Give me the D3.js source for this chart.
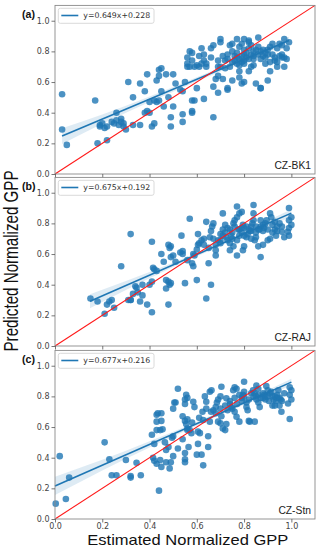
<!DOCTYPE html>
<html>
<head>
<meta charset="utf-8">
<script src="https://cdn.jsdelivr.net/npm/d3@7"></script>
<style>
  html, body { margin: 0; padding: 0; background: #fff; }
  svg { display: block; }
</style>
</head>
<body>
<script>
// Site names, panel tags and regression fits (from the legends)
const sites = ['CZ-BK1', 'CZ-RAJ', 'CZ-Stn']
const tags = ['(a)', '(b)', '(c)']
const slopes = [0.649, 0.675, 0.677]
const intercepts = [0.228, 0.192, 0.216]
const fitRange = [[0.03, 0.99], [0.148, 1.0], [0.0, 1.0]]

// CI band half widths at bandX
const bandX = [0, 0.2, 0.4, 0.6, 0.8, 1.0]
const bandHalf = [
  [0.055, 0.03, 0.018, 0.014, 0.015, 0.025],
  [0.06, 0.04, 0.02, 0.012, 0.014, 0.025],
  [0.06, 0.035, 0.02, 0.013, 0.012, 0.022]
]

const ticks = [0, 0.2, 0.4, 0.6, 0.8, 1.0]

// Scatter points [estimated, predicted]
const bk1 = [
  [0.03,0.52],[0.03,0.29],[0.05,0.19],[0.17,0.48],[0.18,0.20],[0.19,0.32],[0.19,0.31],[0.2,0.33],[0.21,0.30],[0.22,0.31],[0.22,0.22],
  [0.24,0.34],[0.25,0.33],[0.26,0.40],[0.26,0.35],[0.27,0.32],[0.28,0.36],[0.28,0.34],[0.29,0.31],[0.29,0.33],[0.30,0.29],[0.31,0.60],
  [0.33,0.50],[0.33,0.32],[0.36,0.59],[0.36,0.32],[0.38,0.54],[0.39,0.65],[0.38,0.40],[0.39,0.41],[0.40,0.40],[0.41,0.31],[0.42,0.33],
  [0.40,0.47],[0.42,0.48],[0.43,0.47],[0.44,0.48],[0.44,0.68],[0.45,0.69],[0.44,0.64],[0.43,0.61],[0.45,0.54],[0.46,0.44],[0.47,0.65],
  [0.48,0.50],[0.49,0.31],[0.49,0.37],[0.50,0.44],[0.50,0.65],[0.51,0.59],[0.53,0.55],[0.54,0.54],[0.54,0.39],[0.54,0.34],[0.55,0.60],
  [0.56,0.70],[0.56,0.76],[0.57,0.80],[0.58,0.79],[0.58,0.40],[0.58,0.48],[0.59,0.48],[0.58,0.74],[0.60,0.71],[0.60,0.56],[0.61,0.70],
  [0.62,0.82],[0.63,0.78],[0.63,0.49],[0.63,0.74],[0.64,0.70],[0.66,0.76],[0.66,0.82],[0.67,0.84],[0.67,0.37],[0.67,0.57],[0.68,0.62],
  [0.69,0.64],[0.69,0.70],[0.69,0.74],[0.70,0.70],[0.70,0.88],[0.70,0.86],[0.71,0.62],[0.72,0.69],[0.73,0.78],[0.73,0.75],[0.73,0.56],
  [0.74,0.70],[0.75,0.61],[0.75,0.80],[0.76,0.77],[0.77,0.76],[0.77,0.79],[0.78,0.75],[0.74,0.84],[0.75,0.85],[0.77,0.88],[0.78,0.67],
  [0.78,0.63],[0.78,0.71],[0.79,0.73],[0.80,0.72],[0.79,0.59],[0.80,0.60],[0.80,0.78],[0.80,0.81],[0.81,0.79],[0.82,0.82],[0.82,0.86],
  [0.83,0.84],[0.80,0.88],[0.82,0.87],[0.84,0.77],[0.84,0.75],[0.85,0.81],[0.86,0.83],[0.86,0.89],[0.87,0.80],[0.88,0.81],[0.82,0.67],
  [0.83,0.70],[0.84,0.71],[0.85,0.59],[0.87,0.56],[0.88,0.77],[0.89,0.76],[0.89,0.79],[0.90,0.81],[0.91,0.83],[0.92,0.85],[0.89,0.72],
  [0.91,0.73],[0.90,0.61],[0.91,0.67],[0.92,0.78],[0.93,0.74],[0.93,0.76],[0.94,0.73],[0.95,0.77],[0.96,0.78],[0.96,0.76],[0.94,0.70],
  [0.94,0.82],[0.95,0.85],[0.96,0.84],[0.97,0.76],[0.98,0.75],[0.98,0.82],[0.97,0.88],[0.99,0.86],[0.97,0.70],
  [0.76,0.74],[0.77,0.72],[0.79,0.77],[0.81,0.76],[0.83,0.78],[0.75,0.73],[0.72,0.74],[0.71,0.77],[0.78,0.83],[0.79,0.85],[0.84,0.80],
  [0.86,0.78],[0.87,0.75],[0.90,0.78],[0.80,0.74],[0.82,0.75],[0.56,0.72],[0.57,0.70],[0.59,0.70],[0.61,0.77],[0.62,0.72],[0.64,0.72],
  [0.58,0.41],[0.69,0.53],[0.73,0.55],[0.87,0.56]
]

const raj = [
  [0.15,0.31],[0.18,0.29],[0.21,0.21],[0.22,0.27],[0.23,0.29],[0.24,0.30],[0.25,0.25],[0.28,0.52],[0.32,0.73],[0.31,0.30],[0.32,0.30],
  [0.32,0.30],[0.33,0.34],[0.34,0.39],[0.345,0.38],[0.35,0.35],[0.36,0.29],[0.37,0.40],[0.37,0.33],[0.39,0.27],[0.40,0.40],[0.41,0.42],
  [0.41,0.68],[0.41,0.22],[0.415,0.51],[0.42,0.50],[0.43,0.49],[0.45,0.60],[0.46,0.55],[0.48,0.66],[0.485,0.64],[0.49,0.58],[0.49,0.65],
  [0.47,0.43],[0.48,0.42],[0.485,0.40],[0.49,0.41],[0.47,0.375],[0.48,0.27],[0.50,0.59],[0.51,0.55],[0.53,0.61],[0.54,0.62],[0.54,0.60],
  [0.535,0.72],[0.55,0.41],[0.56,0.56],[0.57,0.83],[0.58,0.54],[0.585,0.52],[0.585,0.60],[0.59,0.59],[0.60,0.63],[0.605,0.66],[0.60,0.43],
  [0.605,0.73],[0.61,0.67],[0.62,0.69],[0.63,0.70],[0.64,0.81],[0.64,0.31],[0.65,0.54],[0.655,0.71],[0.66,0.75],[0.67,0.80],[0.665,0.78],
  [0.66,0.40],[0.68,0.625],[0.68,0.59],[0.69,0.69],[0.70,0.67],[0.70,0.73],[0.71,0.76],[0.71,0.865],[0.72,0.79],[0.725,0.71],[0.73,0.69],
  [0.74,0.67],[0.745,0.72],[0.74,0.625],[0.755,0.65],[0.755,0.80],[0.76,0.82],[0.77,0.84],[0.77,0.91],[0.77,0.59],[0.775,0.76],[0.78,0.72],
  [0.79,0.77],[0.795,0.79],[0.78,0.865],[0.79,0.875],[0.795,0.625],[0.80,0.65],[0.81,0.71],[0.815,0.73],[0.825,0.75],[0.83,0.78],[0.835,0.80],
  [0.84,0.82],[0.84,0.92],[0.84,0.865],[0.845,0.69],[0.85,0.71],[0.86,0.65],[0.865,0.76],[0.87,0.78],[0.88,0.75],[0.885,0.77],[0.89,0.80],
  [0.895,0.82],[0.87,0.58],[0.88,0.66],[0.90,0.69],[0.91,0.70],[0.91,0.865],[0.915,0.84],[0.92,0.74],[0.93,0.76],[0.935,0.72],[0.94,0.75],
  [0.95,0.80],[0.96,0.745],[0.97,0.71],[0.985,0.745],[0.99,0.90],[1.0,0.84],[0.99,0.82],[1.0,0.79],[0.99,0.77],[0.99,0.72],
  [0.72,0.74],[0.74,0.76],[0.76,0.78],[0.78,0.76],[0.79,0.74],[0.80,0.77],[0.81,0.78],[0.82,0.76],[0.83,0.75],[0.85,0.78],[0.86,0.76],
  [0.88,0.79],[0.75,0.70],[0.77,0.69],[0.70,0.69],[0.68,0.66],[0.73,0.77],[0.75,0.74],[0.80,0.72],[0.85,0.74],[0.87,0.82],[0.90,0.76],
  [0.92,0.79],[0.94,0.78],[0.96,0.78],[0.65,0.64],[0.63,0.66],[0.67,0.70],[0.71,0.72],[0.83,0.70],[0.93,0.81]
]

const stn = [
  [0.003,0.10],[0.02,0.41],[0.046,0.13],[0.06,0.27],[0.21,0.50],[0.23,0.39],[0.24,0.285],[0.26,0.285],[0.30,0.385],[0.32,0.28],[0.32,0.27],
  [0.345,0.367],[0.363,0.285],[0.41,0.55],[0.415,0.40],[0.42,0.38],[0.43,0.36],[0.42,0.49],[0.43,0.68],[0.435,0.69],[0.45,0.69],[0.43,0.635],
  [0.45,0.64],[0.43,0.58],[0.445,0.58],[0.455,0.585],[0.44,0.185],[0.445,0.385],[0.45,0.34],[0.465,0.50],[0.47,0.45],[0.47,0.37],[0.48,0.47],
  [0.485,0.33],[0.49,0.37],[0.495,0.53],[0.50,0.54],[0.50,0.72],[0.505,0.76],[0.51,0.76],[0.52,0.85],[0.52,0.46],[0.50,0.41],[0.55,0.43],
  [0.55,0.39],[0.54,0.52],[0.54,0.67],[0.55,0.64],[0.555,0.62],[0.56,0.58],[0.55,0.78],[0.555,0.81],[0.56,0.79],[0.55,0.75],[0.56,0.65],
  [0.56,0.59],[0.565,0.47],[0.55,0.37],[0.57,0.58],[0.577,0.56],[0.585,0.765],[0.59,0.73],[0.605,0.57],[0.613,0.56],[0.605,0.49],[0.60,0.42],
  [0.62,0.42],[0.627,0.35],[0.624,0.70],[0.627,0.646],[0.634,0.80],[0.64,0.765],[0.648,0.54],[0.648,0.47],[0.655,0.83],[0.662,0.84],
  [0.655,0.635],[0.67,0.71],[0.68,0.73],[0.685,0.76],[0.69,0.78],[0.70,0.80],[0.69,0.635],[0.70,0.624],[0.704,0.67],[0.71,0.59],[0.72,0.58],
  [0.725,0.62],[0.704,0.863],[0.725,0.787],[0.73,0.71],[0.74,0.75],[0.746,0.73],[0.754,0.84],[0.76,0.86],[0.768,0.85],[0.76,0.70],[0.768,0.667],
  [0.78,0.635],[0.79,0.79],[0.795,0.81],[0.80,0.83],[0.80,0.895],[0.81,0.73],[0.815,0.71],[0.82,0.64],[0.824,0.635],[0.838,0.84],[0.845,0.82],
  [0.852,0.87],[0.86,0.85],[0.845,0.635],[0.852,0.78],[0.86,0.76],[0.866,0.73],[0.88,0.79],[0.885,0.81],[0.89,0.78],[0.90,0.80],[0.905,0.77],
  [0.915,0.83],[0.894,0.867],[0.92,0.74],[0.925,0.78],[0.93,0.80],[0.935,0.77],[0.94,0.79],[0.945,0.84],[0.95,0.74],[0.955,0.78],[0.958,0.70],
  [0.93,0.74],[0.986,0.754],[0.993,0.86],[1.0,0.84],[0.993,0.81],[1.0,0.78],[0.993,0.652],
  [0.72,0.74],[0.74,0.77],[0.76,0.79],[0.78,0.81],[0.79,0.77],[0.80,0.80],[0.82,0.78],[0.83,0.82],[0.84,0.80],[0.86,0.81],[0.87,0.79],
  [0.88,0.82],[0.89,0.80],[0.91,0.82],[0.92,0.80],[0.94,0.81],[0.95,0.79],[0.97,0.82],[0.96,0.77],[0.70,0.72],[0.68,0.69],[0.66,0.70],
  [0.75,0.72],[0.77,0.75],[0.81,0.76],[0.85,0.80],[0.90,0.84],[0.64,0.72],[0.61,0.66],[0.58,0.63]
]

const panelsData = [bk1, raj, stn]

const W = 325, H = 550
const left = 55, right = 315
const panelTops = [5.4, 177.4, 350.4]
const panelH = 168.6
const blue = '#1f77b4'

const svg = d3.select('body').append('svg')
  .attr('width', W)
  .attr('height', H)
  .attr('viewBox', `0 0 ${W} ${H}`)

const x = d3.scaleLinear().domain([0, 1.1]).range([left, right])

panelsData.forEach((pts, i) => {
  const top = panelTops[i]
  const bottom = top + panelH
  const y = d3.scaleLinear().domain([0, 1.1]).range([bottom, top])
  const g = svg.append('g')

  // CI band around the fit
  const fit = v => slopes[i] * v + intercepts[i]
  const [x0, x1] = fitRange[i]
  const halfAt = d3.scaleLinear().domain(bandX).range(bandHalf[i])
  const bx = [x0, ...bandX.filter(v => v > x0 && v < x1), x1]
  g.append('path')
    .datum(bx)
    .attr('fill', blue)
    .attr('fill-opacity', 0.15)
    .attr('d', d3.area()
      .curve(d3.curveMonotoneX)
      .x(v => x(v))
      .y0(v => y(fit(v) - halfAt(v)))
      .y1(v => y(fit(v) + halfAt(v))))

  // Points
  g.append('g')
    .selectAll('circle')
    .data(pts)
    .join('circle')
    .attr('cx', d => x(d[0]))
    .attr('cy', d => y(d[1]))
    .attr('r', 3.3)
    .attr('fill', blue)
    .attr('fill-opacity', 0.8)

  // Regression line
  g.append('line')
    .attr('x1', x(x0)).attr('y1', y(fit(x0)))
    .attr('x2', x(x1)).attr('y2', y(fit(x1)))
    .attr('stroke', blue)
    .attr('stroke-width', 1.6)

  // 1:1 line
  g.append('line')
    .attr('x1', x(0)).attr('y1', y(0))
    .attr('x2', x(1.1)).attr('y2', y(1.1))
    .attr('stroke', '#ff1a1a')
    .attr('stroke-width', 1.1)

  // Frame
  g.append('rect')
    .attr('x', left).attr('y', top)
    .attr('width', right - left).attr('height', panelH)
    .attr('fill', 'none')
    .attr('stroke', '#8a8a8a')
    .attr('stroke-width', 0.9)

  // Y axis
  const ya = g.append('g')
    .attr('transform', `translate(${left},0)`)
    .call(d3.axisLeft(y).tickValues(ticks).tickFormat(d3.format('.1f')).tickSize(3.5).tickPadding(2))
  ya.select('.domain').remove()

  // X axis
  const xa = g.append('g')
    .attr('transform', `translate(0,${bottom})`)
    .call(d3.axisBottom(x).tickValues(ticks).tickFormat(d3.format('.1f')).tickSize(3.5).tickPadding(1))
  xa.select('.domain').remove()
  if (i < 2) xa.selectAll('text').remove()

  g.selectAll('.tick line').attr('stroke', '#555').attr('stroke-width', 0.8)
  g.selectAll('.tick text')
    .attr('font-family', 'DejaVu Sans, sans-serif')
    .attr('font-size', 8)
    .attr('fill', '#444')

  // Legend
  const lg = g.append('g').attr('transform', `translate(58.3,${top + 2.9})`)
  lg.append('rect')
    .attr('width', 95.7).attr('height', 15)
    .attr('rx', 2)
    .attr('fill', '#fff').attr('fill-opacity', 0.8)
    .attr('stroke', '#d0d0d0').attr('stroke-width', 0.8)
  lg.append('line')
    .attr('x1', 3).attr('x2', 20).attr('y1', 7.2).attr('y2', 7.2)
    .attr('stroke', blue).attr('stroke-width', 1.6)
  lg.append('text')
    .attr('x', 25).attr('y', 10)
    .attr('font-family', 'DejaVu Sans, sans-serif')
    .attr('font-size', 7.8)
    .attr('fill', '#333')
    .text(`y=${slopes[i].toFixed(3)}x+${intercepts[i].toFixed(3)}`)

  // Site label
  g.append('text')
    .attr('x', 311).attr('y', bottom - 5)
    .attr('text-anchor', 'end')
    .attr('font-family', 'Liberation Sans, Arial, sans-serif')
    .attr('font-size', 10.3)
    .attr('fill', '#222')
    .text(sites[i])

  // Panel tag
  g.append('text')
    .attr('x', 22).attr('y', top + 12.8)
    .attr('font-family', 'Liberation Sans, Arial, sans-serif')
    .attr('font-weight', 'bold')
    .attr('font-size', 10.6)
    .attr('fill', '#111')
    .text(tags[i])
})

// Axis titles
svg.append('text')
  .attr('x', 187.8).attr('y', 544.5)
  .attr('text-anchor', 'middle')
  .attr('font-family', 'Liberation Sans, Arial, sans-serif')
  .attr('font-size', 15)
  .attr('fill', '#111')
  .attr('textLength', 201)
  .attr('lengthAdjust', 'spacingAndGlyphs')
  .text('Estimated Normalized GPP')

svg.append('text')
  .attr('transform', 'translate(18.3,261) rotate(-90)')
  .attr('text-anchor', 'middle')
  .attr('font-family', 'Liberation Sans, Arial, sans-serif')
  .attr('font-size', 21)
  .attr('fill', '#111')
  .attr('textLength', 181)
  .attr('lengthAdjust', 'spacingAndGlyphs')
  .text('Predicted Normalized GPP')
</script>
</body>
</html>
